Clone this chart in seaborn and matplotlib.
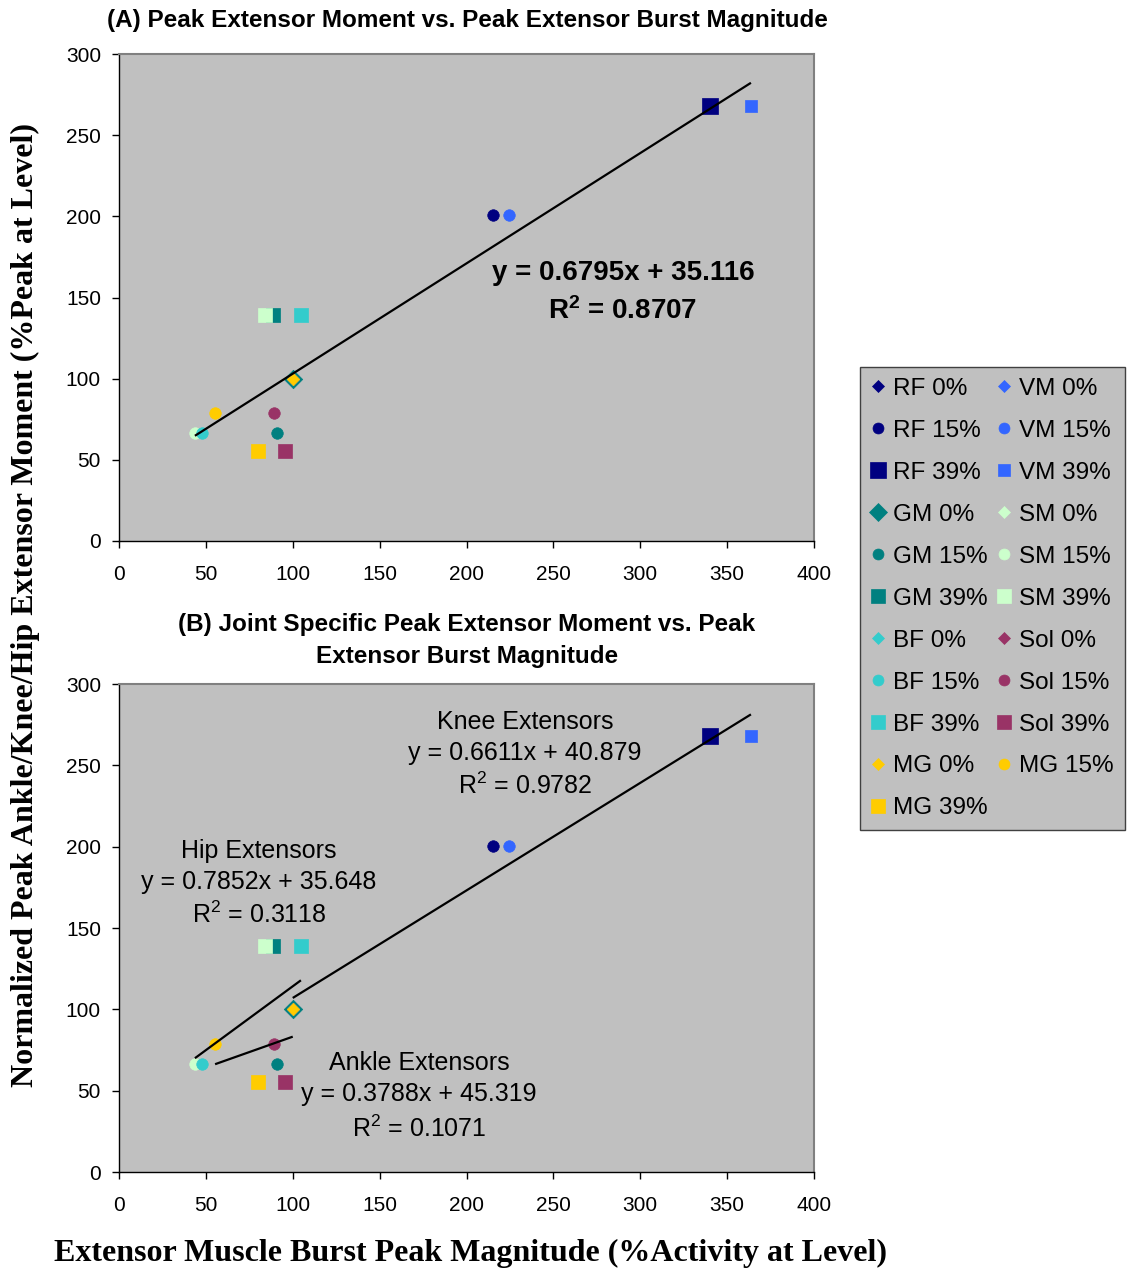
import numpy as np
import pandas as pd
import matplotlib
matplotlib.use("Agg")
import matplotlib.pyplot as plt
from matplotlib.lines import Line2D
import seaborn as sns

# ---------------- data ----------------
series_names = ["RF 0%", "VM 0%", "RF 15%", "VM 15%", "RF 39%", "VM 39%",
                "GM 0%", "SM 0%", "GM 15%", "SM 15%", "GM 39%", "SM 39%",
                "BF 0%", "Sol 0%", "BF 15%", "Sol 15%", "BF 39%", "Sol 39%",
                "MG 0%", "MG 15%", "MG 39%"]
burst_x = [100, 100, 215.4, 224.6, 340.1, 363.7,
           100, 100, 91.1, 43.7, 88.6, 84.0,
           100, 100, 47.6, 89.0, 104.7, 95.5,
           100, 55.3, 80.0]
moment_y = [100, 100, 200.6, 200.6, 268.0, 268.0,
            100, 100, 66.7, 66.7, 139.2, 139.2,
            100, 100, 66.7, 78.8, 139.2, 55.6,
            100, 78.8, 55.6]
joint = ["knee", "knee", "knee", "knee", "knee", "knee",
         "hip", "hip", "hip", "hip", "hip", "hip",
         "hip", "ankle", "hip", "ankle", "hip", "ankle",
         "ankle", "ankle", "ankle"]
colors = ["#000080", "#3366FF", "#000080", "#3366FF", "#000080", "#3366FF",
          "#008080", "#CCFFCC", "#008080", "#CCFFCC", "#008080", "#CCFFCC",
          "#33CCCC", "#993366", "#33CCCC", "#993366", "#33CCCC", "#993366",
          "#FFCC00", "#FFCC00", "#FFCC00"]
markers = ["D", "D", "o", "o", "s", "s",
           "D", "D", "o", "o", "s", "s",
           "D", "D", "o", "o", "s", "s",
           "D", "o", "s"]
msizes = [6.2, 6.2, 8.3, 8.3, 11.5, 8.6,
          9.4, 6.2, 8.3, 8.3, 10, 10,
          6.2, 6.2, 8.3, 8.3, 10, 10,
          6.2, 8.3, 10]

# trendlines: (slope, intercept, R2)
all_fit = (0.6795, 35.116, 0.8707)
knee_fit = (0.6611, 40.879, 0.9782)
hip_fit = (0.7852, 35.648, 0.3118)
ankle_fit = (0.3788, 45.319, 0.1071)

x_ticks = [0, 50, 100, 150, 200, 250, 300, 350, 400]
y_ticks = [0, 50, 100, 150, 200, 250, 300]

df = pd.DataFrame({"series": series_names, "x": burst_x, "y": moment_y,
                   "joint": joint, "color": colors, "marker": markers, "ms": msizes})

# ---------------- style ----------------
sns.set_style("white")
plt.rcParams["font.family"] = ["Liberation Sans", "DejaVu Sans"]
plt.rcParams["mathtext.fontset"] = "custom"
plt.rcParams["mathtext.rm"] = "Liberation Sans"
plt.rcParams["mathtext.bf"] = "Liberation Sans:bold"
for k in ["text.color", "axes.labelcolor", "xtick.color", "ytick.color"]:
    plt.rcParams[k] = "black"

fig = plt.figure(figsize=(11.31, 12.71), dpi=100)
axA = fig.add_axes([119/1131, 1-541/1271, 695/1131, 487/1271])
axB = fig.add_axes([119/1131, 1-1172/1271, 695/1131, 488/1271])


def style_axis(ax):
    ax.set_facecolor("#C0C0C0")
    ax.set_xlim(0, 400)
    ax.set_ylim(0, 300)
    ax.set_xticks(x_ticks)
    ax.set_yticks(y_ticks)
    ax.tick_params(axis="both", direction="out", length=5, width=1, color="black",
                   labelsize=15, bottom=True, left=True, labelcolor="black")
    ax.tick_params(axis="x", pad=12)
    ax.tick_params(axis="y", pad=8)
    for s in ["left", "bottom"]:
        ax.spines[s].set_color("black")
        ax.spines[s].set_linewidth(1.0)
    for s in ["top", "right"]:
        ax.spines[s].set_color("#808080")
        ax.spines[s].set_linewidth(1.5)
    ax.set_xlabel("")
    ax.set_ylabel("")
    ax.grid(False)


def draw_points(ax):
    for i, row in df.iterrows():
        sns.scatterplot(data=df.iloc[[i]], x="x", y="y", ax=ax, marker=row["marker"],
                        s=row["ms"] ** 2, color=row["color"], edgecolor=row["color"],
                        linewidth=0.5, zorder=3 + i * 0.01, legend=False)


def trend(ax, fit, sel):
    xs = df.loc[sel, "x"]
    xr = np.array([xs.min(), xs.max()])
    ax.plot(xr, fit[0] * xr + fit[1], color="black", lw=1.6, zorder=5,
            solid_capstyle="butt")


# Panel A
draw_points(axA)
trend(axA, all_fit, df.index)
style_axis(axA)
axA.text(290, 165, f"y = {all_fit[0]}x + {all_fit[1]:.3f}", ha="center", va="center",
         fontsize=20, fontweight="bold")
axA.text(290, 141.5, r"$\mathbf{R^2}$" + f" = {all_fit[2]}", ha="center", va="center",
         fontsize=20, fontweight="bold")

# Panel B
draw_points(axB)
trend(axB, knee_fit, df["joint"] == "knee")
trend(axB, hip_fit, df["joint"] == "hip")
trend(axB, ankle_fit, df["joint"] == "ankle")
style_axis(axB)

ann_fs = 18
for (cx, ys, name, fit) in [(233.7, (276.6, 257.6, 237.3), "Knee Extensors", knee_fit),
                            (80.6, (197.3, 178.3, 158.0), "Hip Extensors", hip_fit),
                            (172.7, (67.0, 47.9, 26.4), "Ankle Extensors", ankle_fit)]:
    axB.text(cx, ys[0], name, ha="center", va="center", fontsize=ann_fs)
    axB.text(cx, ys[1], f"y = {fit[0]}x + {fit[1]:.3f}", ha="center", va="center",
             fontsize=ann_fs)
    axB.text(cx, ys[2], r"R$^2$" + f" = {fit[2]:.4f}", ha="center", va="center",
             fontsize=ann_fs)

# Titles
title_fs = 17.5
fig.text(467/1131, 1-21/1271, "(A) Peak Extensor Moment vs. Peak Extensor Burst Magnitude",
         ha="center", va="center", fontsize=title_fs, fontweight="bold")
fig.text(467/1131, 1-624/1271, "(B) Joint Specific Peak Extensor Moment vs. Peak",
         ha="center", va="center", fontsize=title_fs, fontweight="bold")
fig.text(467/1131, 1-656/1271, "Extensor Burst Magnitude",
         ha="center", va="center", fontsize=title_fs, fontweight="bold")

# Axis labels
fig.text(471/1131, 1-1253/1271, "Extensor Muscle Burst Peak Magnitude (%Activity at Level)",
         ha="center", va="center", fontsize=23, fontweight="bold",
         family=["Liberation Serif", "DejaVu Serif"])
fig.text(25/1131, 1-605/1271, "Normalized Peak Ankle/Knee/Hip Extensor Moment (%Peak at Level)",
         ha="center", va="center", rotation=90, fontsize=23, fontweight="bold",
         family=["Liberation Serif", "DejaVu Serif"])

# Legend (row-wise order reproduced with column-wise fill)
handles = []
for i, row in df.iterrows():
    handles.append(Line2D([], [], linestyle="none", marker=row["marker"],
                          markersize=row["ms"] * 0.95, markerfacecolor=row["color"],
                          markeredgecolor=row["color"], markeredgewidth=0.5,
                          label=row["series"]))
order = list(range(0, 21, 2)) + list(range(1, 21, 2))
leg = fig.legend([handles[k] for k in order], [series_names[k] for k in order],
                 ncol=2, loc="upper left",
                 bbox_to_anchor=(860/1131, 1-367/1271), fontsize=17.5,
                 frameon=True, fancybox=False, facecolor="#C0C0C0", edgecolor="#404040",
                 handlelength=0.6, handletextpad=0.3, columnspacing=0.4,
                 labelspacing=0.82, borderpad=0.45, borderaxespad=0)
leg.get_frame().set_linewidth(1.0)
leg.get_frame().set_alpha(1)

fig.savefig("out.png", dpi=100)
